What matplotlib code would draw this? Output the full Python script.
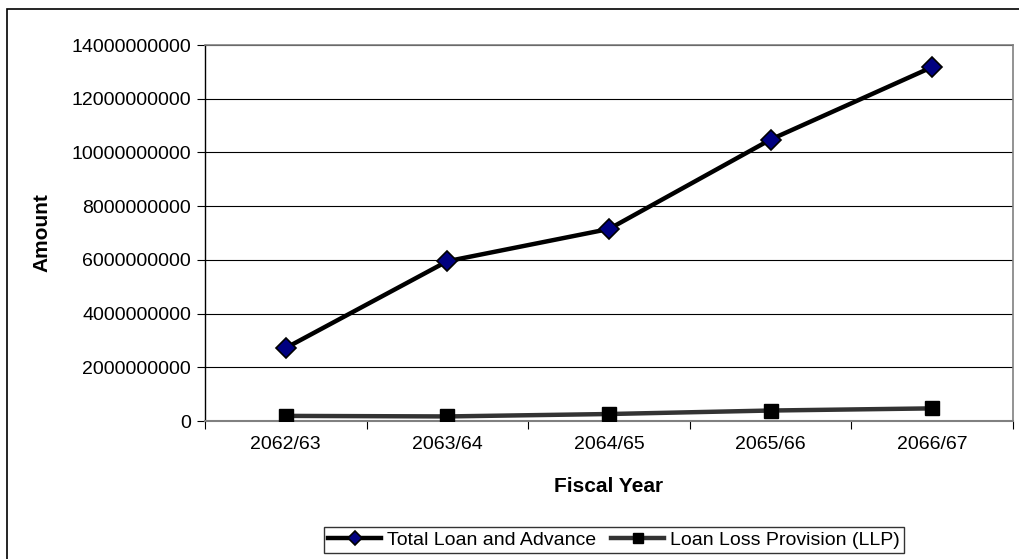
import matplotlib
matplotlib.use("Agg")
import matplotlib.pyplot as plt
from matplotlib.patches import Rectangle

plt.rcParams['font.family'] = ['Liberation Sans', 'DejaVu Sans']

categories = ["2062/63", "2063/64", "2064/65", "2065/66", "2066/67"]
total_loan = [2.72e9, 5.95e9, 7.15e9, 10.48e9, 13.18e9]
llp = [0.19e9, 0.17e9, 0.26e9, 0.39e9, 0.47e9]
yticks = [0, 2e9, 4e9, 6e9, 8e9, 10e9, 12e9, 14e9]

W, H = 1019, 559
fig = plt.figure(figsize=(W/100, H/100), dpi=100)
fig.patches.append(Rectangle((7/W, -0.2), 1.2, 1.2 - 9/H, transform=fig.transFigure,
                             fill=False, edgecolor='black', linewidth=1.2))

ax = fig.add_axes([205/W, 1 - 421/H, 808/W, 376/H])
x = list(range(len(categories)))

ax.plot(x, total_loan, color='black', linewidth=3.2, marker='D', markersize=10,
        markerfacecolor='#000080', markeredgecolor='black', markeredgewidth=1.2,
        label='Total Loan and Advance', zorder=4)
ax.plot(x, llp, color='#333333', linewidth=3.2, marker='s', markersize=10,
        markerfacecolor='black', markeredgecolor='black',
        label='Loan Loss Provision (LLP)', zorder=4)

ax.set_xlim(-0.5, len(categories) - 0.5)
ax.set_ylim(0, 14e9)
ax.set_yticks(yticks)
ax.set_yticklabels([f"{int(v)}" for v in yticks])
ax.set_xticks(x)
ax.set_xticklabels(categories)
ax.set_xticks([i - 0.5 for i in range(len(categories) + 1)], minor=True)
ax.tick_params(axis='x', which='major', length=0, pad=11, labelsize=14)
ax.tick_params(axis='x', which='minor', length=6, color='black', width=0.8)
ax.tick_params(axis='y', length=6, width=0.8, labelsize=14, pad=4)

ax.grid(axis='y', color='black', linewidth=0.8)
ax.set_axisbelow(True)
for s in ['top', 'right']:
    ax.spines[s].set_color('#808080')
    ax.spines[s].set_linewidth(1.2)
ax.spines['left'].set_color('black')
ax.spines['left'].set_linewidth(1.0)
ax.spines['bottom'].set_color('#808080')
ax.spines['bottom'].set_linewidth(1.5)

fig.text(42/W, 1 - 233/H, 'Amount', rotation=90, ha='center', va='center',
         fontsize=15, fontweight='bold')
fig.text(609/W, 1 - 487/H, 'Fiscal Year', ha='center', va='center',
         fontsize=15, fontweight='bold')

leg = fig.legend(loc='center', bbox_to_anchor=(614/W, 1 - 540/H), ncol=2,
                 frameon=True, fancybox=False, edgecolor='black', fontsize=14,
                 handlelength=2.7, handletextpad=0.3, columnspacing=0.8,
                 borderpad=0.22, markerscale=0.75, shadow=False)
leg.get_frame().set_linewidth(1.0)

fig.savefig('out.png', dpi=100)
